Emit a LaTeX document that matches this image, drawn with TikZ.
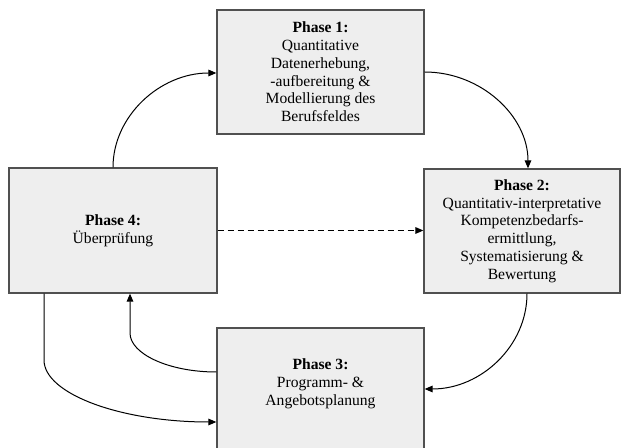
\documentclass[tikz,border=0pt]{standalone}
\usepackage{fontspec}
\setmainfont{Liberation Serif}
\usetikzlibrary{arrows.meta}
\definecolor{boxfill}{HTML}{EEEEEE}
\definecolor{boxline}{HTML}{505050}
\tikzset{
  phasebox/.style={draw=boxline, fill=boxfill, line width=1pt, rectangle, inner sep=0pt},
  phasetext/.style={align=center, font=\fontsize{11.7}{13.3}\selectfont, inner sep=0pt},
  conn/.style={line width=0.75pt, -{Triangle[length=6pt,width=5pt]}},
  dconn/.style={conn, dash pattern=on 4.5pt off 3pt}
}
\begin{document}
\begin{tikzpicture}[x=0.75pt,y=-0.75pt]
\useasboundingbox (0,0) rectangle (621,448);
% boxes
\node[phasebox, phasetext, minimum width=155.25pt, minimum height=93pt] (p1) at (320.5,72)
  {\textbf{Phase 1:}\\Quantitative\\Datenerhebung,\\-aufbereitung \&\\Modellierung des\\Berufsfeldes};
\node[phasebox, phasetext, minimum width=147pt, minimum height=93pt] (p2) at (522,231)
  {\textbf{Phase 2:}\\Quantitativ-interpretative\\Kompetenzbedarfs-\\ermittlung,\\Systematisierung \&\\Bewertung};
\node[phasebox, minimum width=155.25pt, minimum height=94.5pt] (p3) at (320.5,391) {};
\node[phasetext] (p3t) at (320.5,384) {\textbf{Phase 3:}\\Programm- \&\\Angebotsplanung};
\node[phasebox, phasetext, minimum width=156pt, minimum height=93.75pt] (p4) at (113,230.5)
  {\textbf{Phase 4:}\\Überprüfung};
% connectors
\draw[conn] (p4.north) .. controls (113,116) and (160,73) .. (p1.west |- 0,73);
\draw[conn] (p1.east |- 0,72) .. controls (481,72) and (528,116) .. (p2.north -| 528,0);
\draw[conn] (p2.south -| 527,0) .. controls (527,346) and (481,389) .. (p3.east |- 0,389);
\draw[conn] (p3.west |- 0,372) .. controls (169,372) and (130,354) .. (130,333) -- (p4.south -| 130,0);
\draw[conn] (p4.south -| 44,0) -- (44,360) .. controls (44,394) and (121,422) .. (p3.west |- 0,422);
\draw[dconn] (p4.east) -- (p2.west |- p4.east);
\end{tikzpicture}
\end{document}
